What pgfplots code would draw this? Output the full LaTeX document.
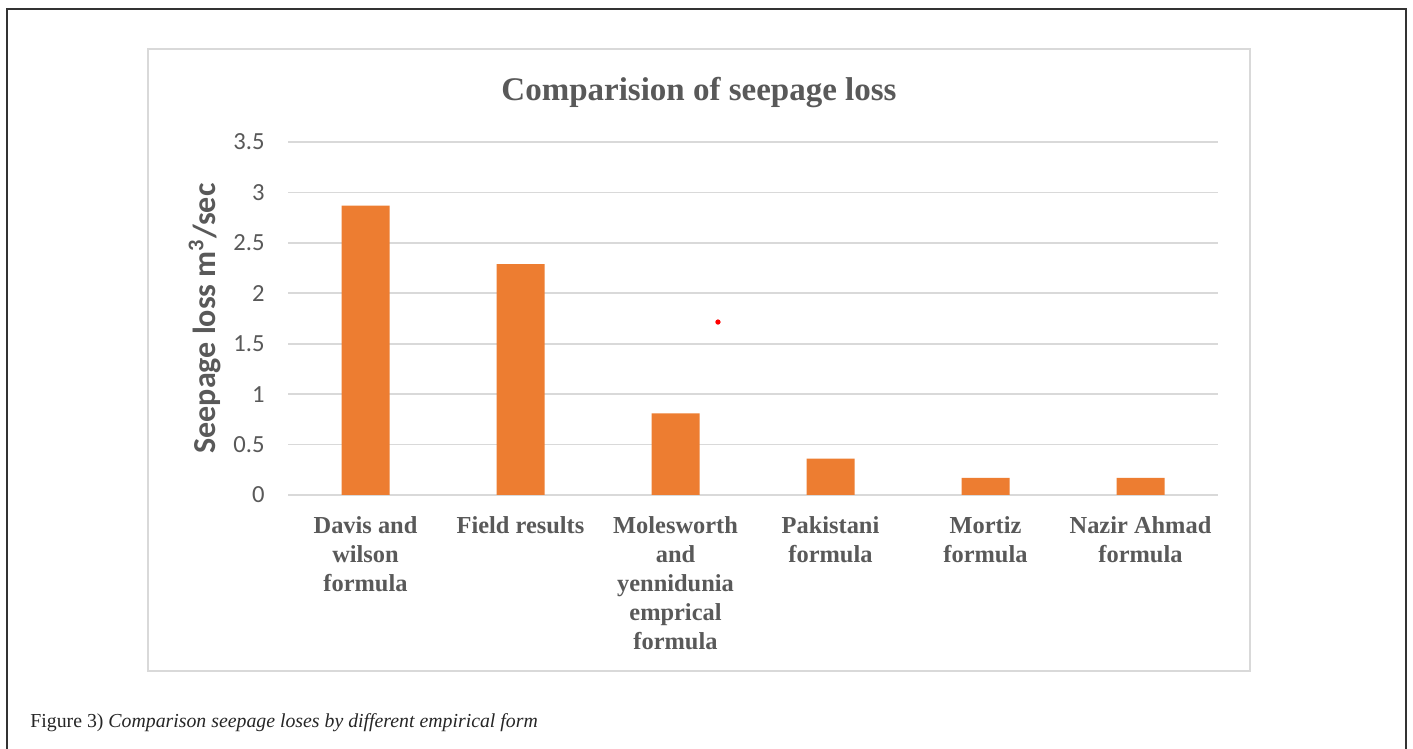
\documentclass[border=0pt]{standalone}
\usepackage{pgfplots}
\pgfplotsset{compat=1.18}
\usepackage{fontspec}
\setmainfont{Liberation Serif}
\newfontfamily\carlito{Carlito}
\definecolor{barorange}{HTML}{ED7D31}
\definecolor{txtgray}{HTML}{595959}
\definecolor{gridgray}{HTML}{D9D9D9}
\begin{document}
\begin{tikzpicture}
\path[use as bounding box, fill=white] (0pt,0pt) rectangle (706.5pt,374.5pt);
% outer frame
\draw[color=black!80, line width=0.7pt] (3.5pt,0pt) -- (3.5pt,370pt) -- (703pt,370pt) -- (703pt,0pt);
% inner chart frame
\draw[color=gridgray, line width=0.8pt, fill=white] (74pt,39pt) rectangle (625pt,350pt);
% title
\node[text=txtgray, font=\bfseries\fontsize{16.5}{19}\selectfont] at (349.5pt,328pt) {Comparision of seepage loss};
\begin{axis}[
  at={(144pt,127pt)}, anchor=south west,
  scale only axis, width=465pt, height=176.5pt,
  xmin=-0.5, xmax=5.5, ymin=0, ymax=3.5,
  ytick={0,0.5,1,1.5,2,2.5,3,3.5},
  yticklabels={0,0.5,1,1.5,2,2.5,3,3.5},
  xtick={0,1,2,3,4,5},
  xticklabels={{Davis and\\wilson\\formula},{Field results},{Molesworth\\and\\yennidunia\\emprical\\formula},{Pakistani\\formula},{Mortiz\\formula},{Nazir Ahmad\\formula}},
  axis line style={draw=none},
  major tick length=0pt,
  ymajorgrids, major grid style={draw=gridgray, line width=0.8pt},
  yticklabel style={font=\carlito\fontsize{12.3}{14}\selectfont, text=txtgray, anchor=east, inner sep=0pt, xshift=-11.5pt},
  xticklabel style={font=\bfseries\fontsize{12.2}{14.5}\selectfont, text=txtgray, align=center, anchor=north, inner sep=0pt, yshift=-10.5pt},
  ylabel={Seepage loss m\textsuperscript{3}/sec},
  ylabel style={font=\carlito\bfseries\fontsize{16}{18}\selectfont, text=txtgray, at={(axis description cs:-0.0892,0.5)}, anchor=center},
  clip=false,
]
\addplot[ybar, bar width=24pt, fill=barorange, draw=none] coordinates {(0,2.87) (1,2.29) (2,0.81) (3,0.36) (4,0.17) (5,0.17)};
\addplot[only marks, mark=*, mark size=1.1pt, color=red, draw=none] coordinates {(2.274,1.715)};
\end{axis}
% caption
\node[anchor=base west, inner sep=0pt, text=black!85, font=\fontsize{9.9}{11}\selectfont] at (15pt,10.5pt) {Figure 3) \textit{Comparison seepage loses by different empirical form}};
\end{tikzpicture}
\end{document}
